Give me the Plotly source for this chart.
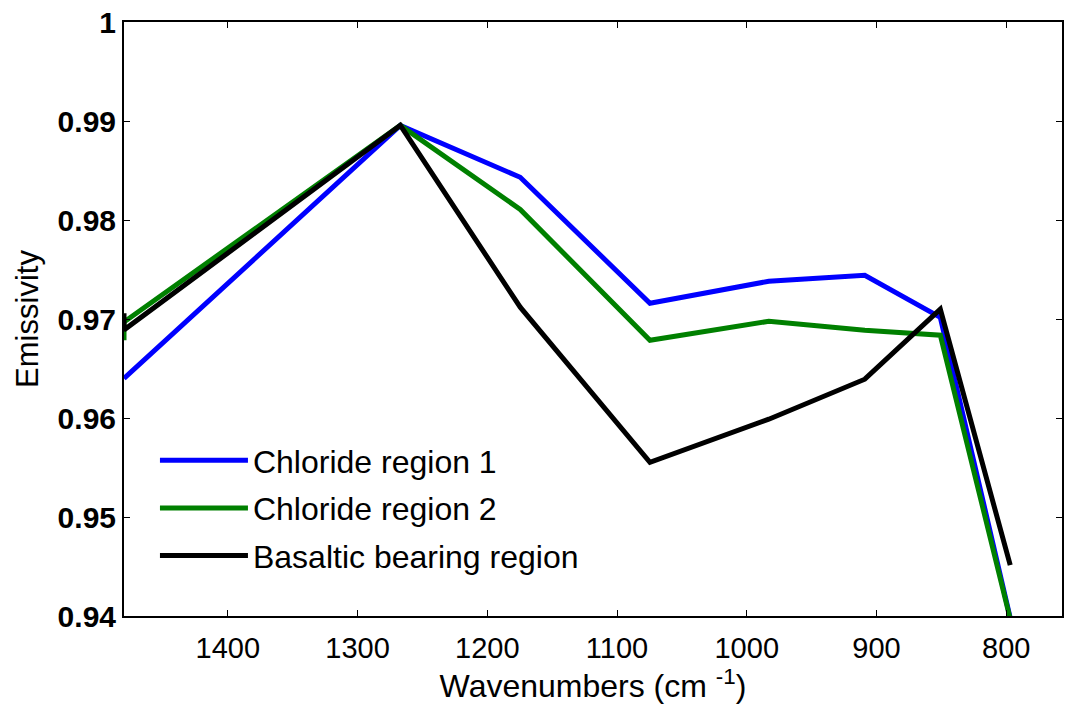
import plotly.graph_objects as go

wavenumbers = [1480, 1480, 1267, 1174.6, 1074.6, 983, 909, 850.8, 796.9]
chloride_1 = [0.9640, 0.9640, 0.98956, 0.98431, 0.97159, 0.97381, 0.97442, 0.97017, 0.9398]
chloride_2 = [0.96785, 0.96970, 0.98956, 0.98107, 0.96785, 0.96977, 0.96886, 0.96836, 0.9397]
basaltic = [0.97058, 0.96890, 0.98956, 0.97119, 0.95553, 0.95988, 0.96392, 0.97099, 0.94513]

series_names = ["Chloride region 1", "Chloride region 2", "Basaltic bearing region"]
series_colors = ["#0000ff", "#008000", "#000000"]
x_ticks = [1400, 1300, 1200, 1100, 1000, 900, 800]
y_ticks = [0.94, 0.95, 0.96, 0.97, 0.98, 0.99, 1.0]
y_tick_text = ["0.94", "0.95", "0.96", "0.97", "0.98", "0.99", "1"]

fig = go.Figure()
for i, (name, ys, col) in enumerate(zip(series_names, [chloride_1, chloride_2, basaltic], series_colors)):
    fig.add_trace(go.Scatter(
        x=wavenumbers, y=ys, name=name, mode="lines",
        line=dict(color=col, width=5), legendgroup=f"g{i}",
    ))

font_family = "Liberation Sans, Arial, sans-serif"
fig.update_layout(
    width=1066, height=708,
    margin=dict(l=124, r=2, t=22, b=92),
    paper_bgcolor="white", plot_bgcolor="white",
    font=dict(family=font_family, size=30, color="black"),
    showlegend=True,
    legend=dict(
        x=0.033, y=0.308, xanchor="left", yanchor="top",
        bgcolor="rgba(0,0,0,0)", borderwidth=0,
        font=dict(size=32, family=font_family),
        tracegroupgap=3, itemwidth=88,
    ),
    xaxis=dict(
        range=[1480, 757], tickvals=x_ticks,
        ticks="inside", ticklen=6, tickwidth=1, tickcolor="black",
        showline=True, linecolor="black", linewidth=2, mirror="ticks",
        showgrid=False, zeroline=False, ticklabelstandoff=5,
        tickfont=dict(size=29, family=font_family),
        title=dict(text="Wavenumbers (cm <sup>-1</sup>)", font=dict(size=32), standoff=8),
    ),
    yaxis=dict(
        range=[0.94, 1.0], tickvals=y_ticks, ticktext=y_tick_text,
        ticks="inside", ticklen=6, tickwidth=1, tickcolor="black",
        showline=True, linecolor="black", linewidth=2, mirror="ticks",
        showgrid=False, zeroline=False,
        tickfont=dict(size=30, family=font_family, weight="bold"),
        title=dict(text="Emissivity", font=dict(size=31), standoff=10),
    ),
)

fig.write_html("out.html")
